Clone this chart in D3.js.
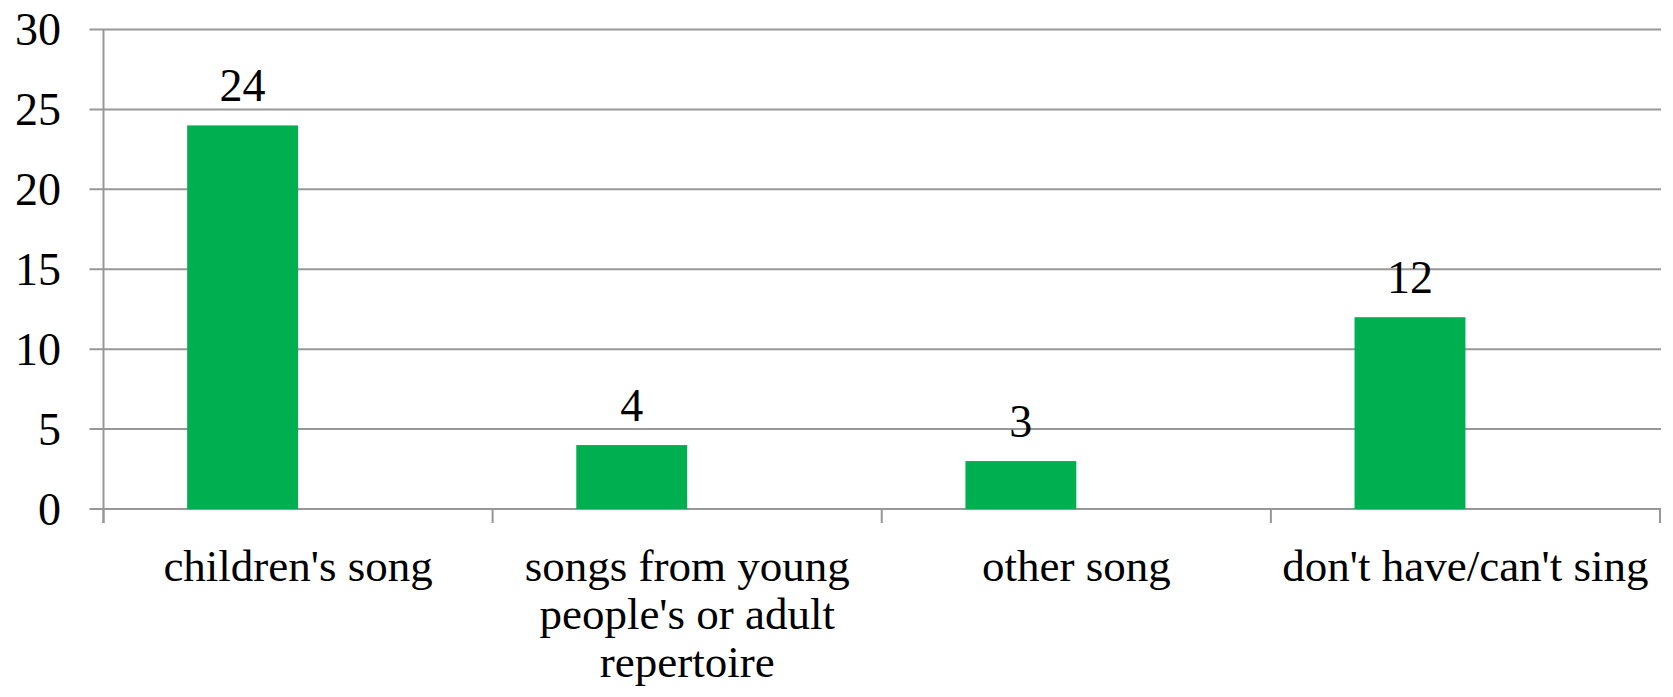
<!DOCTYPE html>
<html><head><meta charset="utf-8">
<script src="https://cdn.jsdelivr.net/npm/d3@7"></script>
<style>body{margin:0;background:#fff}svg{display:block}
svg text, svg tspan{font-family:'Liberation Serif','Times New Roman',serif !important}</style>
</head><body><svg id="c" width="1673" height="697"></svg>
<script>
const categories = ["children's song", "songs from young people's or adult repertoire", "other song", "don't have/can't sing"];
const categoryLines = [["children's song"], ["songs from young", "people's or adult", "repertoire"], ["other song"], ["don't have/can't sing"]];
const values = [24, 4, 3, 12];
const yTicks = [0, 5, 10, 15, 20, 25, 30];

(function () {
const FONT = "'Liberation Serif', 'Times New Roman', serif";
const svg = d3.select("#c");
const pL = 103.5, pR = 1660, pT = 29.5, pB = 509;
const x = d3.scaleBand().domain(categories).range([pL, pR]);
const y = d3.scaleLinear().domain([0, 30]).range([pB, pT]);
const grid = "#979797";

svg.append("g").selectAll("line").data(yTicks).join("line")
  .attr("x1", pL - 14).attr("x2", pR + 1)
  .attr("y1", d => y(d)).attr("y2", d => y(d))
  .attr("stroke", grid).attr("stroke-width", 2);

svg.append("line").attr("x1", pL).attr("x2", pL).attr("y1", pT).attr("y2", pB + 14)
  .attr("stroke", grid).attr("stroke-width", 2);

svg.append("g").selectAll("text").data(yTicks).join("text")
  .attr("x", 61).attr("y", d => y(d)).attr("dy", "0.34em")
  .attr("text-anchor", "end").attr("font-family", "Liberation Serif")
  .style("font-family", FONT, "important").style("font-size", "46px").attr("fill", "#000").text(d => d);

const tickX = categories.map(c => x(c)).concat([pR]);
svg.append("g").selectAll("line").data(tickX).join("line")
  .attr("x1", d => d).attr("x2", d => d).attr("y1", pB).attr("y2", pB + 14)
  .attr("stroke", grid).attr("stroke-width", 2);

const bw = x.bandwidth();
const barW = bw * 0.285;
svg.append("g").selectAll("rect").data(values).join("rect")
  .attr("x", (d, i) => x(categories[i]) + bw / 2 - barW)
  .attr("width", barW)
  .attr("y", d => y(d)).attr("height", d => pB - y(d))
  .attr("fill", "#00B050");

svg.append("g").selectAll("text").data(values).join("text")
  .attr("x", (d, i) => x(categories[i]) + bw / 2 - barW / 2)
  .attr("y", d => y(d) - 24)
  .attr("text-anchor", "middle").attr("font-family", "Liberation Serif")
  .style("font-family", FONT, "important").style("font-size", "46px").attr("fill", "#000").text(d => d);

const cg = svg.append("g");
categories.forEach((c, i) => {
  const t = cg.append("text").attr("text-anchor", "middle").attr("font-family", "Liberation Serif")
    .style("font-family", FONT, "important").style("font-size", "45px").attr("fill", "#000")
    .attr("x", x(c) + bw / 2).attr("y", 581);
  categoryLines[i].forEach((ln, j) => {
    t.append("tspan").attr("x", x(c) + bw / 2).attr("y", 581 + j * 48)
      .style("font-family", FONT, "important").text(ln);
  });
});
})();
</script></body></html>
